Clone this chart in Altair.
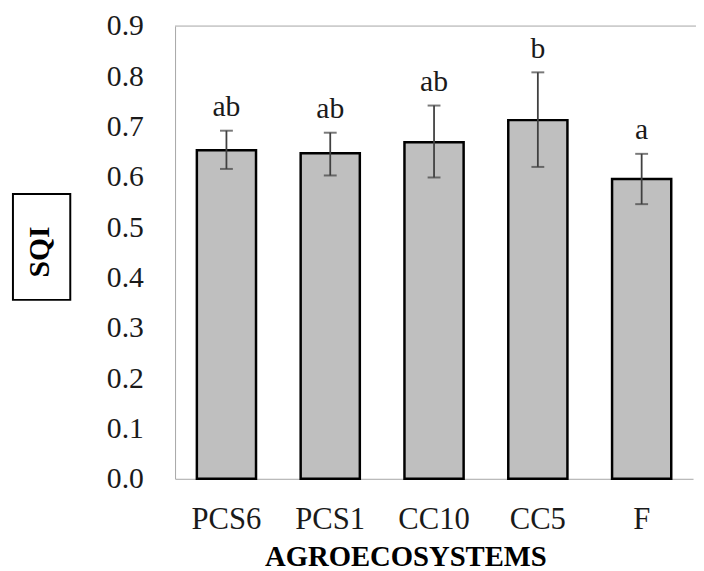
import altair as alt
import pandas as pd

systems = ["PCS6", "PCS1", "CC10", "CC5", "F"]
sqi = [0.653, 0.647, 0.669, 0.713, 0.596]
err_hi = [0.692, 0.688, 0.742, 0.808, 0.646]
err_lo = [0.616, 0.603, 0.599, 0.620, 0.546]
letters = ["ab", "ab", "ab", "b", "a"]
y_ticks = [0.0, 0.1, 0.2, 0.3, 0.4, 0.5, 0.6, 0.7, 0.8, 0.9]

df = pd.DataFrame(dict(system=systems, sqi=sqi, hi=err_hi, lo=err_lo, letter=letters))

W, H = 524, 458
FONT = "Liberation Serif"
FRAME = "#a6a6a6"

x = alt.X(
    "system:N", sort=systems,
    scale=alt.Scale(paddingInner=0.43, paddingOuter=0.21),
    axis=alt.Axis(
        title="AGROECOSYSTEMS", labelAngle=0, ticks=False, grid=False, domainColor=FRAME,
        labelFont=FONT, labelFontSize=31, labelColor="#1a1a1a", labelPadding=26,
        titleFont=FONT, titleFontSize=29, titleFontWeight="bold", titleColor="black",
        titleX=233, titleY=88, titleBaseline="alphabetic",
    ),
)
y_axis = alt.Axis(
    values=y_ticks, format=".1f", grid=False, ticks=False, domainColor=FRAME,
    labelFont=FONT, labelFontSize=30, labelColor="#1a1a1a", labelPadding=32,
    title="SQI", titleFont=FONT, titleFontSize=30, titleFontWeight="bold", titleColor="black",
    titleX=-137, titleY=228, titleAngle=270, titleAlign="center", titleBaseline="middle",
)
yscale = alt.Scale(domain=[0, 0.9])

bars = alt.Chart(df).mark_bar(color="#bfbfbf", stroke="black", strokeWidth=2.5).encode(
    x=x, y=alt.Y("sqi:Q", scale=yscale, axis=y_axis)
)
rule = alt.Chart(df).mark_rule(color="#404040", strokeWidth=1.8).encode(
    x=x, y=alt.Y("lo:Q", scale=yscale, axis=y_axis), y2="hi:Q"
)
cap_hi = alt.Chart(df).mark_tick(color="#404040", thickness=2, size=13).encode(
    x=x, y=alt.Y("hi:Q", scale=yscale, axis=y_axis)
)
cap_lo = alt.Chart(df).mark_tick(color="#404040", thickness=2, size=13).encode(
    x=x, y=alt.Y("lo:Q", scale=yscale, axis=y_axis)
)
text = alt.Chart(df).mark_text(
    dy=-9, baseline="bottom", font=FONT, fontSize=30, color="#1a1a1a"
).encode(x=x, y=alt.Y("hi:Q", scale=yscale, axis=y_axis), text="letter:N")

deco = alt.Data(values=[{"k": 1}])
top_line = alt.Chart(deco).mark_rule(color=FRAME, strokeWidth=1).encode(
    x=alt.value(0), x2=alt.value(W + 3), y=alt.value(0)
)
box = alt.Chart(deco).mark_rect(filled=False, stroke="black", strokeWidth=2).encode(
    x=alt.value(-164), x2=alt.value(-106), y=alt.value(170), y2=alt.value(277)
)

chart = alt.layer(bars, rule, cap_hi, cap_lo, text, top_line, box).properties(
    width=W, height=H,
    autosize=alt.AutoSizeParams(type="none"),
    padding={"left": 169, "top": 15, "right": 3, "bottom": 90},
).configure_view(stroke="transparent", strokeWidth=0).configure_axis(grid=False)

chart.save("out.html", embed_options={"renderer": "svg", "actions": False})
